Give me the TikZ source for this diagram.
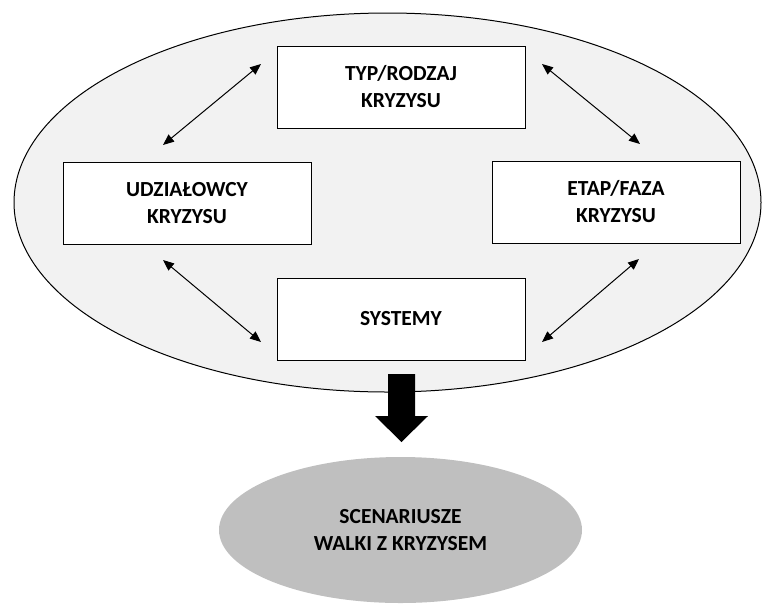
\documentclass[tikz,border=0pt]{standalone}
\usepackage{fontspec}
\setmainfont{Carlito}
\usetikzlibrary{shapes.geometric,arrows.meta}
\begin{document}
\begin{tikzpicture}[x=1pt,y=-1pt,
  txt/.style={font=\bfseries\fontsize{21.5}{27}\selectfont,align=center,text=black},
  card/.style={txt,draw=black,line width=1pt,fill=white,minimum width=248pt,minimum height=82pt,inner sep=0pt},
  link/.style={line width=1pt,{Triangle[length=11pt,width=9pt]}-{Triangle[length=11pt,width=9pt]}}]
\useasboundingbox (0,0) rectangle (762,603);
% outer field of factors
\node[ellipse,draw=black,line width=1pt,fill=black!5,minimum width=747pt,minimum height=379pt,inner sep=0pt] (field) at (387.5,202.5) {};
% factor boxes
\node[card] (typ) at (401,87) {TYP/RODZAJ\\KRYZYSU};
\node[card] (udz) at (187,203.5) {UDZIAŁOWCY\\KRYZYSU};
\node[card] (etap) at (616,202) {ETAP/FAZA\\KRYZYSU};
\node[card] (sys) at (401,319) {SYSTEMY};
% end points of the two-way links
\coordinate (a1) at (163,145); \coordinate (a2) at (261,64);
\coordinate (b1) at (542,64);  \coordinate (b2) at (640,144);
\coordinate (c1) at (163,260); \coordinate (c2) at (261,342);
\coordinate (d1) at (639,259); \coordinate (d2) at (542,342);
\draw[link] (a1) -- (a2);
\draw[link] (b1) -- (b2);
\draw[link] (c1) -- (c2);
\draw[link] (d1) -- (d2);
% result
\node[ellipse,fill=black!25,minimum width=363pt,minimum height=146pt,inner sep=0pt,txt] (scen) at (400.5,530) {SCENARIUSZE\\WALKI Z KRYZYSEM};
% thick arrow toward the result
\fill[black] (388,374) -- (415,374) -- (415,416) -- (428,416) -- (401.5,442) -- (375,416) -- (388,416) -- cycle;
\end{tikzpicture}
\end{document}
